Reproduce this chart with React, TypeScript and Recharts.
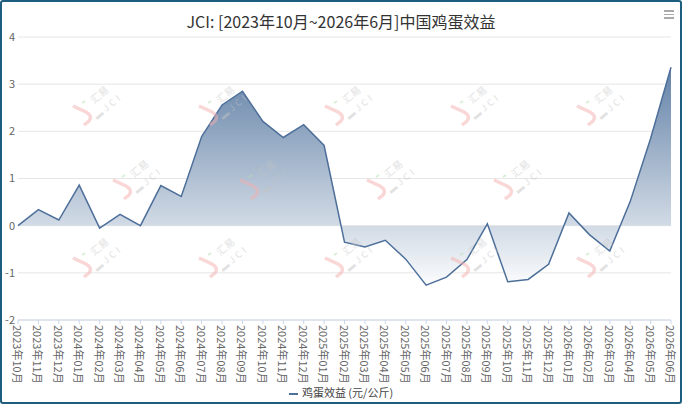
import { AreaChart, Area, XAxis, YAxis, CartesianGrid } from "recharts";

const months = [
    "2023年10月", "2023年11月", "2023年12月",
    "2024年01月", "2024年02月", "2024年03月", "2024年04月", "2024年05月", "2024年06月",
    "2024年07月", "2024年08月", "2024年09月", "2024年10月", "2024年11月", "2024年12月",
    "2025年01月", "2025年02月", "2025年03月", "2025年04月", "2025年05月", "2025年06月",
    "2025年07月", "2025年08月", "2025年09月", "2025年10月", "2025年11月", "2025年12月",
    "2026年01月", "2026年02月", "2026年03月", "2026年04月", "2026年05月", "2026年06月",
];

const eggProfit = [
    0.0, 0.34, 0.12, 0.86, -0.05, 0.24, 0.0, 0.85, 0.62,
    1.89, 2.56, 2.85, 2.21, 1.87, 2.14, 1.7, -0.35, -0.45,
    -0.31, -0.71, -1.26, -1.09, -0.72, 0.04, -1.19, -1.14, -0.82,
    0.27, -0.19, -0.54, 0.51, 1.85, 3.36,
];

const yTicks = [-2, -1, 0, 1, 2, 3, 4];

const data = months.map((m, i) => ({ month: m, value: eggProfit[i] }));

const font = "'Noto Sans CJK SC', 'Noto Sans', sans-serif";

// watermark anchors (page coords, start of the hook)
const marks = [
    [71, 104], [197, 104], [323, 104], [449, 104], [575, 104],
    [111, 178], [238, 178], [365, 178], [492, 178],
    [71, 256], [197, 256], [323, 256], [449, 256], [575, 256],
];

function MonthTick(props: any) {
    const { x, y, payload } = props;
    return (
        <text
            x={x}
            y={y}
            transform={`rotate(90, ${x}, ${y})`}
            textAnchor="start"
            dominantBaseline="central"
            fill="#666"
            fontSize={11}
            fontFamily={font}>
            {payload.value}
        </text>
    );
}

function Watermarks() {
    return (
        <svg
            width={682}
            height={404}
            style={{ position: "absolute", left: 0, top: 0, pointerEvents: "none" }}>
            {marks.map(([ax, ay], i) => (
                <g key={i} opacity={0.5}>
                    <path
                        d={`M ${ax} ${ay} L ${ax + 13} ${ay + 6} Q ${ax + 20} ${ay + 10} ${ax + 16} ${ay + 15} L ${ax + 11} ${ay + 19}`}
                        stroke="#f6b0b0"
                        strokeWidth={3.5}
                        fill="none"
                    />
                    <line x1={ax + 9} y1={ay - 3} x2={ax + 12} y2={ay - 5} stroke="#b5dfb5" strokeWidth={2} />
                    <text
                        x={ax + 26}
                        y={ay - 12}
                        transform={`rotate(-40, ${ax + 26}, ${ay - 12})`}
                        textAnchor="middle"
                        dominantBaseline="central"
                        fontSize={10}
                        fill="#c4c4c4"
                        fontFamily={font}>
                        汇易
                    </text>
                    <text
                        x={ax + 35}
                        y={ay + 0}
                        transform={`rotate(-40, ${ax + 35}, ${ay})`}
                        textAnchor="middle"
                        dominantBaseline="central"
                        fontSize={9}
                        letterSpacing={3}
                        fill="#c4c4c4"
                        fontFamily={font}>
                        ▬JCI
                    </text>
                </g>
            ))}
        </svg>
    );
}

export default function App() {
    return (
        <div
            style={{
                position: "absolute",
                left: 0,
                top: 0,
                width: 682,
                height: 404,
                boxSizing: "border-box",
                border: "2px solid #1d5d7e",
                borderRadius: 3,
                background: "#fff",
                fontFamily: font,
            }}>
            <div
                style={{
                    position: "absolute",
                    left: 0,
                    right: 0,
                    top: 8,
                    textAlign: "center",
                    fontSize: 16,
                    color: "#333",
                    lineHeight: "22px",
                }}>
                JCI: [2023年10月~2026年6月]中国鸡蛋效益
            </div>
            <div style={{ position: "absolute", right: 6, top: 8, width: 10 }}>
                {[0, 1, 2].map((i) => (
                    <div key={i} style={{ height: 1.5, background: "#aaa", marginBottom: 2 }} />
                ))}
            </div>
            <AreaChart
                width={678}
                height={400}
                data={data}
                margin={{ top: 35, right: 9, left: 0, bottom: 22 }}>
                <defs>
                    <linearGradient id="eggFill" x1="0" y1="0" x2="0" y2="1">
                        <stop offset="0%" stopColor="#6382a7" />
                        <stop offset="100%" stopColor="#fbfcfd" />
                    </linearGradient>
                </defs>
                <CartesianGrid vertical={false} stroke="#e6e6e6" />
                <XAxis
                    dataKey="month"
                    interval={0}
                    height={60}
                    tick={<MonthTick />}
                    tickSize={4}
                    tickMargin={1}
                    axisLine={{ stroke: "#ccd6eb" }}
                    tickLine={{ stroke: "#ccd6eb" }}
                />
                <YAxis
                    domain={[-2, 4]}
                    ticks={yTicks}
                    width={16}
                    tickSize={0}
                    tickMargin={3}
                    axisLine={false}
                    tickLine={false}
                    tick={{ fill: "#666", fontSize: 11, fontFamily: font }}
                />
                <Area
                    type="linear"
                    dataKey="value"
                    stroke="#4d6f9a"
                    strokeWidth={1.5}
                    fill="url(#eggFill)"
                    fillOpacity={1}
                    dot={false}
                    activeDot={false}
                    isAnimationActive={false}
                />
            </AreaChart>
            <Watermarks />
            <div
                style={{
                    position: "absolute",
                    left: 0,
                    right: 0,
                    top: 382,
                    textAlign: "center",
                    fontSize: 11,
                    color: "#444",
                    lineHeight: "16px",
                }}>
                <span
                    style={{
                        display: "inline-block",
                        width: 9,
                        height: 2,
                        background: "#4d6f9a",
                        verticalAlign: "middle",
                        marginRight: 4,
                    }}
                />
                鸡蛋效益 (元/公斤)
            </div>
        </div>
    );
}
